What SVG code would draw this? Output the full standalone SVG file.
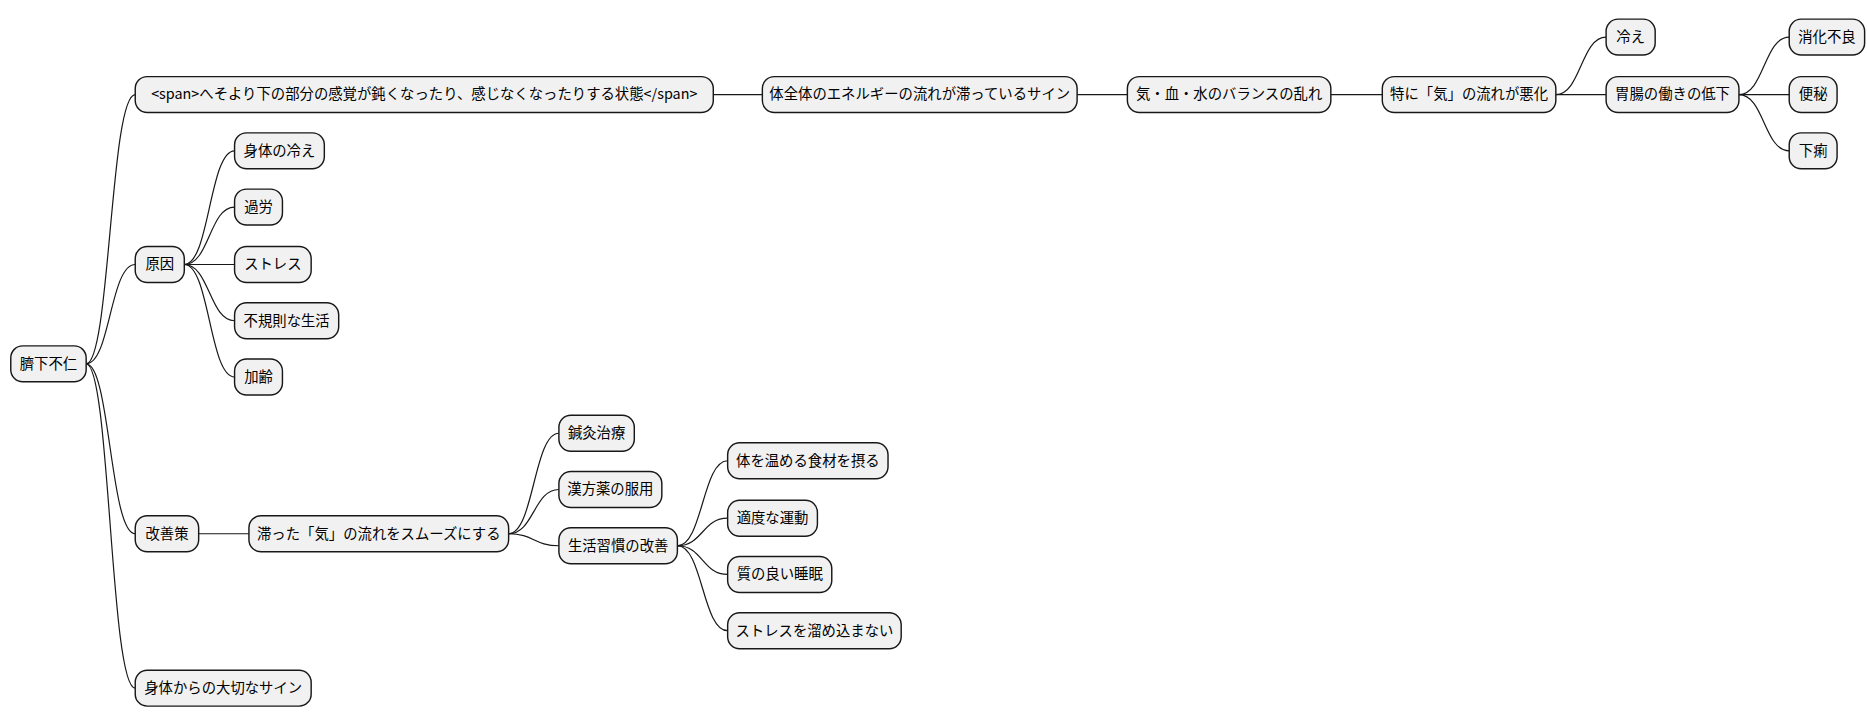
<svg xmlns="http://www.w3.org/2000/svg" width="1867" height="724" viewBox="0 0 1867 724">
<style>
rect{fill:#f1f1f1;stroke:#181818;stroke-width:1.2}
text{font-family:"Noto Sans CJK JP","DejaVu Sans",sans-serif;font-size:12px;text-anchor:middle;fill:#000}
path{fill:none;stroke:#181818;stroke-width:1}
</style>
<rect width="1867" height="724" style="fill:#fff;stroke:none"/>
<g transform="scale(1.1968)">
<g id="connectors">
<path d="M72 304 C92 304 92 79 113 79"/>
<path d="M72 304 C92 304 92 221 113 221"/>
<path d="M72 304 C92 304 92 446 113 446"/>
<path d="M72 304 C92 304 92 575 113 575"/>
<path d="M596 79 L637 79"/>
<path d="M900 79 L942 79"/>
<path d="M1112 79 L1155 79"/>
<path d="M1300 79 C1321 79 1321 31 1342 31"/>
<path d="M1300 79 L1342 79"/>
<path d="M1453 79 C1474 79 1474 31 1495 31"/>
<path d="M1453 79 L1495 79"/>
<path d="M1453 79 C1474 79 1474 126 1495 126"/>
<path d="M154 221 C175 221 175 126 196 126"/>
<path d="M154 221 C175 221 175 173 196 173"/>
<path d="M154 221 L196 221"/>
<path d="M154 221 C175 221 175 268 196 268"/>
<path d="M154 221 C175 221 175 315 196 315"/>
<path d="M166 446 L208 446"/>
<path d="M425 446 C446 446 446 362 467 362"/>
<path d="M425 446 C446 446 446 409 467 409"/>
<path d="M425 446 C446 446 446 456 467 456"/>
<path d="M566 456 C587 456 587 385 608 385"/>
<path d="M566 456 C587 456 587 433 608 433"/>
<path d="M566 456 C587 456 587 480 608 480"/>
<path d="M566 456 C587 456 587 527 608 527"/>
</g>
<g id="n0"><rect x="9" y="289" width="63" height="30" rx="10"/><text x="40.5" y="308">臍下不仁</text></g>
<g id="n1"><rect x="113" y="64" width="483" height="30" rx="10"/><text x="354.5" y="83">&lt;span&gt;へそより下の部分の感覚が鈍くなったり、感じなくなったりする状態&lt;/span&gt;</text></g>
<g id="n2"><rect x="637" y="64" width="263" height="30" rx="10"/><text x="768.5" y="83">体全体のエネルギーの流れが滞っているサイン</text></g>
<g id="n3"><rect x="942" y="64" width="170" height="30" rx="10"/><text x="1027" y="83">気・血・水のバランスの乱れ</text></g>
<g id="n4"><rect x="1155" y="64" width="145" height="30" rx="10"/><text x="1227.5" y="83">特に「気」の流れが悪化</text></g>
<g id="n5"><rect x="1342" y="16" width="41" height="30" rx="10"/><text x="1362.5" y="35">冷え</text></g>
<g id="n6"><rect x="1342" y="64" width="111" height="30" rx="10"/><text x="1397.5" y="83">胃腸の働きの低下</text></g>
<g id="n7"><rect x="1495" y="16" width="63" height="30" rx="10"/><text x="1526.5" y="35">消化不良</text></g>
<g id="n8"><rect x="1495" y="64" width="40" height="30" rx="10"/><text x="1515" y="83">便秘</text></g>
<g id="n9"><rect x="1495" y="111" width="40" height="30" rx="10"/><text x="1515" y="130">下痢</text></g>
<g id="n10"><rect x="113" y="206" width="41" height="30" rx="10"/><text x="133.5" y="225">原因</text></g>
<g id="n11"><rect x="196" y="111" width="75" height="30" rx="10"/><text x="233.5" y="130">身体の冷え</text></g>
<g id="n12"><rect x="196" y="158" width="40" height="30" rx="10"/><text x="216" y="177">過労</text></g>
<g id="n13"><rect x="196" y="206" width="64" height="30" rx="10"/><text x="228" y="225">ストレス</text></g>
<g id="n14"><rect x="196" y="253" width="87" height="30" rx="10"/><text x="239.5" y="272">不規則な生活</text></g>
<g id="n15"><rect x="196" y="300" width="40" height="30" rx="10"/><text x="216" y="319">加齢</text></g>
<g id="n16"><rect x="113" y="431" width="53" height="30" rx="10"/><text x="139.5" y="450">改善策</text></g>
<g id="n17"><rect x="208" y="431" width="217" height="30" rx="10"/><text x="316.5" y="450">滞った「気」の流れをスムーズにする</text></g>
<g id="n18"><rect x="467" y="347" width="63" height="30" rx="10"/><text x="498.5" y="366">鍼灸治療</text></g>
<g id="n19"><rect x="467" y="394" width="86" height="30" rx="10"/><text x="510" y="413">漢方薬の服用</text></g>
<g id="n20"><rect x="467" y="441" width="99" height="30" rx="10"/><text x="516.5" y="460">生活習慣の改善</text></g>
<g id="n21"><rect x="608" y="370" width="134" height="30" rx="10"/><text x="675" y="389">体を温める食材を摂る</text></g>
<g id="n22"><rect x="608" y="418" width="75" height="30" rx="10"/><text x="645.5" y="437">適度な運動</text></g>
<g id="n23"><rect x="608" y="465" width="87" height="30" rx="10"/><text x="651.5" y="484">質の良い睡眠</text></g>
<g id="n24"><rect x="608" y="512" width="145" height="30" rx="10"/><text x="680.5" y="531">ストレスを溜め込まない</text></g>
<g id="n25"><rect x="113" y="560" width="147" height="30" rx="10"/><text x="186.5" y="579">身体からの大切なサイン</text></g>
</g>
</svg>
